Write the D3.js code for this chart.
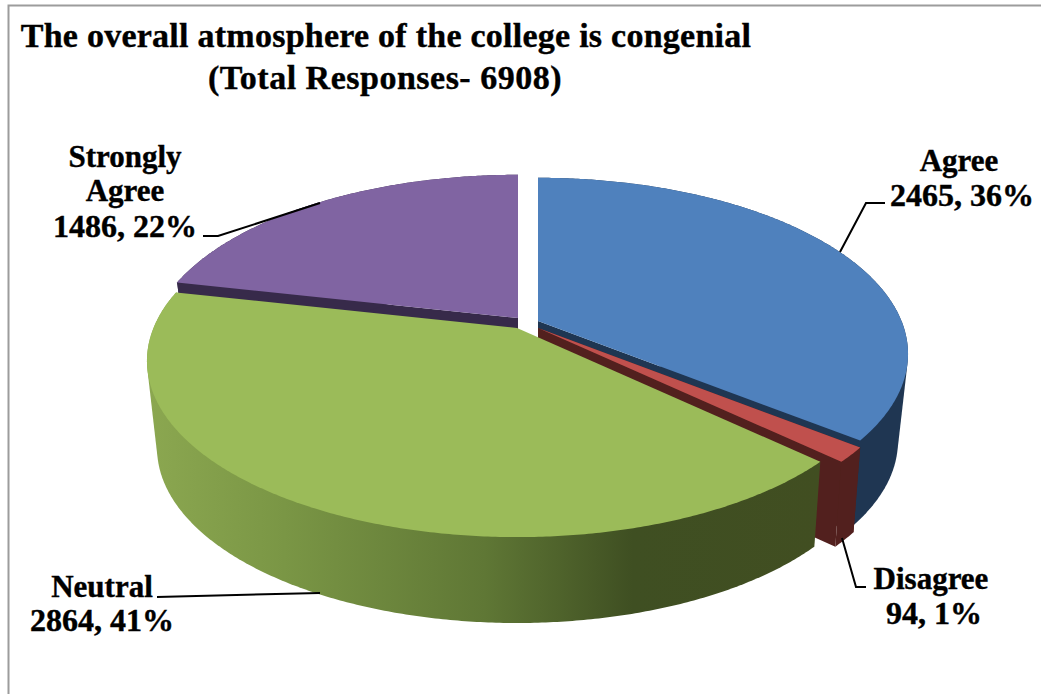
<!DOCTYPE html>
<html>
<head>
<meta charset="utf-8">
<script src="https://cdn.jsdelivr.net/npm/d3@7/dist/d3.min.js"></script>
<style>
html,body{margin:0;padding:0;background:#fff}
svg{display:block}
text{font-family:"Liberation Serif",serif;font-weight:bold;fill:#000;stroke:#000;stroke-width:0.4px;text-anchor:middle}
</style>
</head>
<body>
<svg id="c" width="1041" height="694"></svg>
<script>
const categories = ["Agree", "Disagree", "Neutral", "Strongly Agree"];
const values = [2465, 94, 2864, 1486];
const percents = [36, 1, 41, 22];
const titleLines = ["The overall atmosphere of the college is congenial", "(Total Responses- 6908)"];

const faceColors = ["#4f81bd", "#c0504d", "#9bbb59", "#8064a2"];
const sideColors = ["#1f3652", "#52201e", "url(#greenSide)", "#372a4a"];
const apexes = [[538, 321], [538, 328], [517, 328], [518, 318]];
const drawOrder = [3, 0, 1, 2];

const svg = d3.select("#c");

// frame
svg.append("path").attr("d", "M8.5,694V5.5H1041").attr("fill", "none").attr("stroke", "#9c9c9c").attr("stroke-width", 2);

// green side gradient
const grad = svg.append("defs").append("linearGradient").attr("id", "greenSide")
  .attr("gradientUnits", "userSpaceOnUse").attr("x1", 150).attr("x2", 820).attr("y1", 0).attr("y2", 0);
[[0, "#8ba750"], [0.2, "#7a9645"], [0.5, "#5f7735"], [0.72, "#3f4f22"], [1, "#414e21"]]
  .forEach(s => grad.append("stop").attr("offset", s[0]).attr("stop-color", s[1]));

// perspective disc projection: the top rim and the bottom rim have their own ellipse
const TOP = {a: 363.5, b: 170, k: 0.187, depth: 0};
const BOTTOM = {a: 352.7, b: 168, k: 0.2, depth: 85};
function proj(apex, theta, r, bottom) {
  const p = bottom ? BOTTOM : TOP;
  const u = r * Math.sin(theta), v = r * Math.cos(theta), s = 1 / (1 + p.k * v);
  return [apex[0] + p.a * u * s, apex[1] + p.depth - p.b * v * s];
}
const line = d3.line();
const arcs = d3.pie().sort(null)(values);

function arcPoints(apex, a0, a1, bottom) {
  const n = Math.max(2, Math.ceil((a1 - a0) / (Math.PI / 360)));
  return d3.range(n + 1).map(i => proj(apex, a0 + (a1 - a0) * i / n, 1, bottom));
}

drawOrder.forEach(i => {
  const d = arcs[i], apex = apexes[i];
  const g = svg.append("g").attr("class", "slice");
  const side = sideColors[i], a0 = d.startAngle, a1 = d.endAngle;
  const cut = a => [proj(apex, a, 0, false), proj(apex, a, 1, false), proj(apex, a, 1, true), proj(apex, a, 0, true)];
  if (i !== 2) {
    g.append("path").attr("d", line(cut(a0)) + "Z").attr("fill", side);
    g.append("path").attr("d", line(cut(a1)) + "Z").attr("fill", side);
  }
  const top = arcPoints(apex, a0, a1, false), bot = arcPoints(apex, a0, a1, true);
  // outer wall: the hull of both rims, so its silhouette is the tangent between them
  const wall = d3.polygonHull(top.concat(bot));
  g.append("path").attr("d", line(wall) + "Z").attr("fill", side);
  const face = [proj(apex, 0, 0, false)].concat(top);
  g.append("path").attr("d", line(face) + "Z").attr("fill", faceColors[i]);
});

// leader lines
const leaders = [
  [[840, 252], [866, 203], [885, 203]],
  [[842, 538], [856, 587], [866, 587]],
  [[157, 597], [320, 593]],
  [[203, 236], [218, 236], [320, 203]]
];
leaders.forEach(p => svg.append("path").attr("d", line(p)).attr("fill", "none").attr("stroke", "#000").attr("stroke-width", 2));

// text
const tx = [[386, 47], [385, 89]];
const ts = [0.25, 0.5];
titleLines.forEach((t, i) => svg.append("text").attr("x", tx[i][0]).attr("y", tx[i][1]).attr("font-size", 34).attr("letter-spacing", ts[i]).text(t));

const labelLines = categories.map((c, i) => {
  const words = i === 3 ? c.split(" ") : [c];
  return words.concat([d3.format("d")(values[i]) + ", " + percents[i] + "%"]);
});
const labelPos = [
  [[959, 171], [962, 206]],
  [[931, 589], [934, 624]],
  [[102, 597], [102, 631]],
  [[125, 167], [125, 201], [125, 237]]
];
labelLines.forEach((lines, i) => lines.forEach((t, j) =>
  svg.append("text").attr("x", labelPos[i][j][0]).attr("y", labelPos[i][j][1])
    .attr("font-size", j === lines.length - 1 ? 32 : 31).text(t)));
</script>
</body>
</html>
